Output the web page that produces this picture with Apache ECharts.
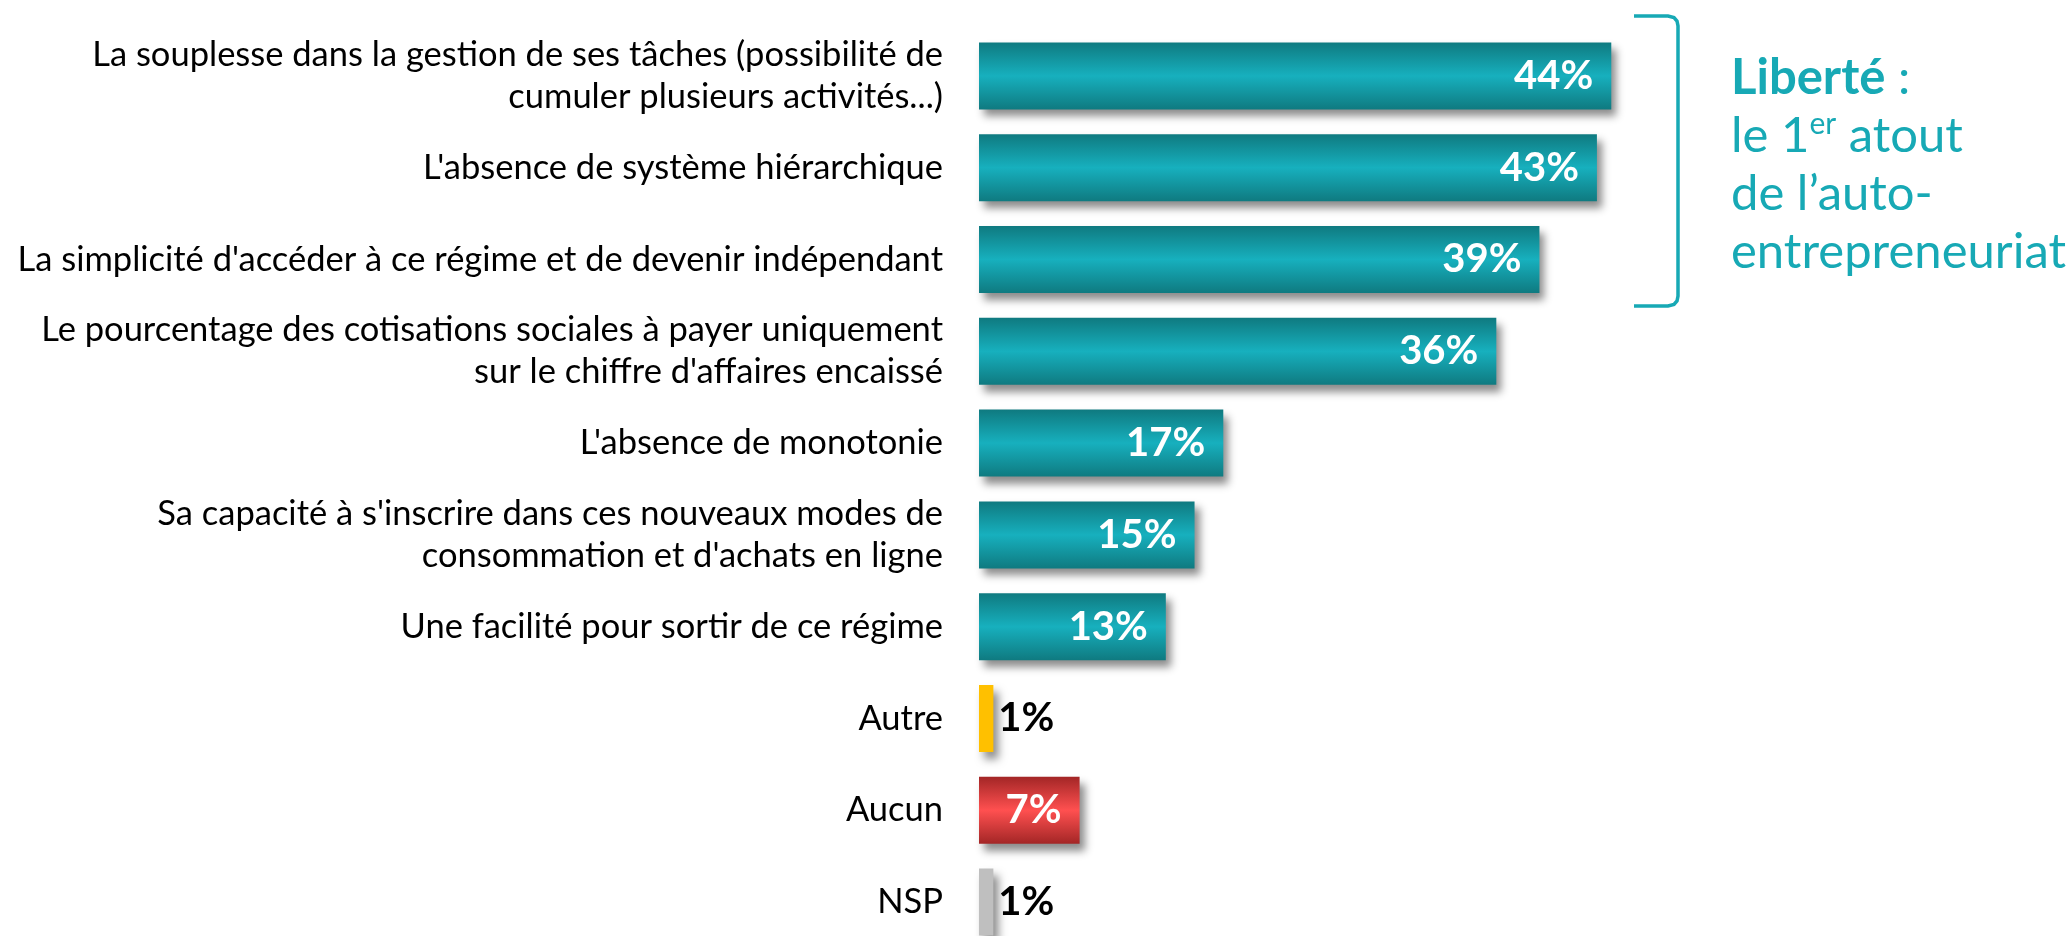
<!DOCTYPE html>
<html><head><meta charset="utf-8">
<script src="https://cdn.jsdelivr.net/npm/echarts@6/dist/echarts.min.js"></script>
<style>html,body{margin:0;padding:0;background:#fff}#c{width:2069px;height:936px}</style>
</head><body><div id="c"></div>
<script>
const categories = [
  "La souplesse dans la gestion de ses tâches (possibilité de\ncumuler plusieurs activités...)",
  "L'absence de système hiérarchique",
  "La simplicité d'accéder à ce régime et de devenir indépendant",
  "Le pourcentage des cotisations sociales à payer uniquement\nsur le chiffre d'affaires encaissé",
  "L'absence de monotonie",
  "Sa capacité à s'inscrire dans ces nouveaux modes de\nconsommation et d'achats en ligne",
  "Une facilité pour sortir de ce régime",
  "Autre",
  "Aucun",
  "NSP"
];
const values = [44, 43, 39, 36, 17, 15, 13, 1, 7, 1];
const xTicks = [0, 10, 20, 30, 40, 50];

const FONT = 'Lato, "Open Sans", sans-serif';
const TEAL = '#17A9B5';
function grad(dark, light) {
  return {type: 'linear', x: 0, y: 0, x2: 0, y2: 1, colorStops: [
    {offset: 0, color: dark}, {offset: 0.5, color: light}, {offset: 1, color: dark}
  ]};
}
const styleByCat = {
  "Autre": {fill: '#FFC000', label: 'out'},
  "Aucun": {fill: grad('#A32626', '#FF5050'), label: 'in'},
  "NSP": {fill: '#BFBFBF', label: 'out'}
};
const data = values.map((v, i) => {
  const s = styleByCat[categories[i]] || {fill: grad('#0F7A80', '#17B0BE'), label: 'in'};
  const inside = s.label === 'in';
  return {
    value: v,
    itemStyle: {color: s.fill},
    label: inside
      ? {position: 'insideRight', distance: 18, color: '#fff'}
      : {position: 'right', distance: 5, color: '#000'}
  };
});

const chart = echarts.init(document.getElementById('c'));
chart.setOption({
  animation: false,
  backgroundColor: '#fff',
  grid: {left: 979, top: 30, width: 718.5, height: 918, containLabel: false, outerBoundsMode: 'none'},
  xAxis: {type: 'value', min: xTicks[0], max: xTicks[xTicks.length - 1], interval: 10, show: false},
  yAxis: {
    type: 'category', data: categories, inverse: true,
    axisLine: {show: false}, axisTick: {show: false}, splitLine: {show: false},
    axisLabel: {margin: 36, fontSize: 34.5, lineHeight: 42, color: '#000', fontFamily: FONT, align: 'right'}
  },
  series: [{
    type: 'bar', data: data, barWidth: 67,
    itemStyle: {shadowColor: 'rgba(0,0,0,0.45)', shadowBlur: 8, shadowOffsetX: 5, shadowOffsetY: 7},
    label: {show: true, formatter: p => p.value + '%', fontSize: 40, fontWeight: 'bold', fontFamily: FONT}
  }],
  graphic: [
    {type: 'polyline', shape: {points: [[1634,16],[1668,16],[1674,17.5],[1677,21],[1678,26],[1678,296],[1677,301],[1674,304.5],[1668,306],[1634,306]]},
     style: {fill: null, stroke: TEAL, lineWidth: 3.5}},
    {type: 'text', left: 1731, top: 54, style: {
      text: '{b|Liberté}{n| :}\n{n|le 1}{sup|er}{n| atout}\n{n|de l’auto-}\n{n|entrepreneuriat}',
      fill: TEAL, fontSize: 49, fontFamily: FONT,
      rich: {
        b: {fontSize: 49, fontWeight: 'bold', fill: TEAL, fontFamily: FONT, lineHeight: 58},
        n: {fontSize: 49, fill: TEAL, fontFamily: FONT, lineHeight: 58},
        sup: {fontSize: 30, fill: TEAL, fontFamily: FONT, lineHeight: 58, verticalAlign: 'top', padding: [2, 0, 0, 0]}
      }
    }}
  ]
});
</script></body></html>
